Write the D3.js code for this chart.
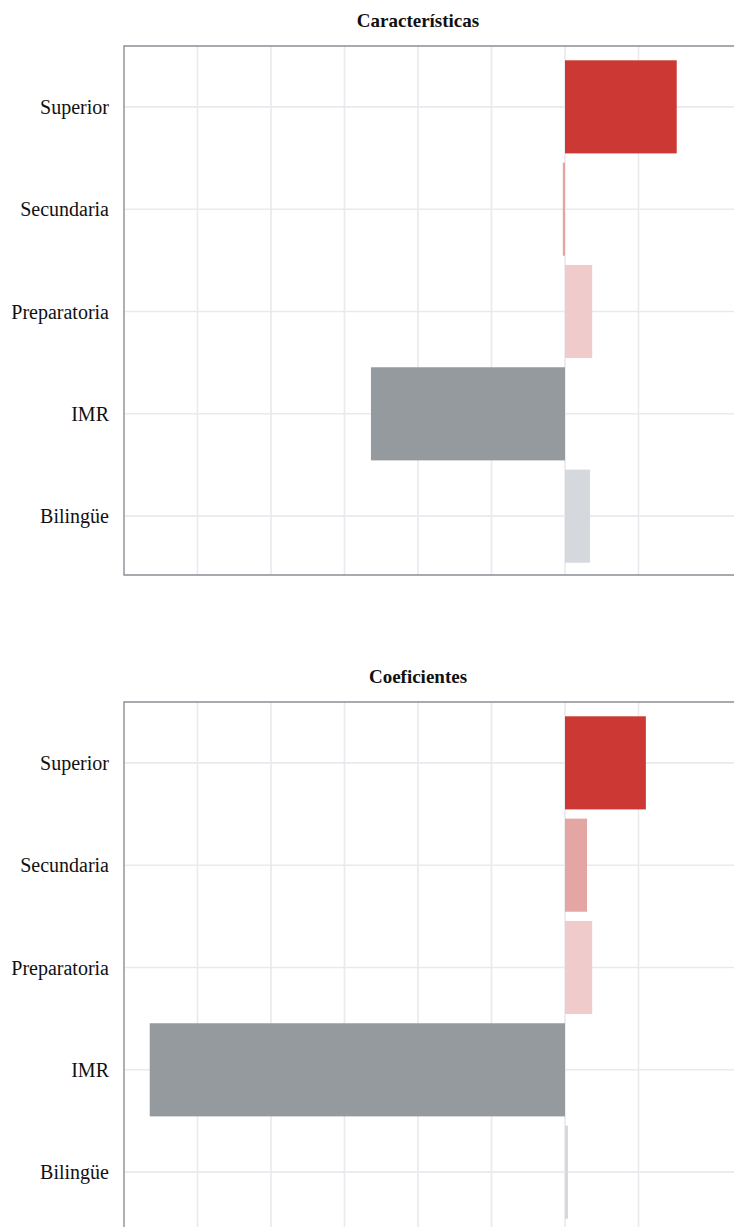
<!DOCTYPE html>
<html>
<head>
<meta charset="utf-8">
<script src="https://cdn.jsdelivr.net/npm/d3@7"></script>
<style>
  html, body { margin: 0; padding: 0; background: #fff; }
  svg { display: block; }
  text { font-family: "Liberation Serif", "DejaVu Serif", serif; fill: #111; }
</style>
</head>
<body>
<svg id="chart" width="734" height="1227"></svg>
<script>
// Categories, top to bottom
const categories = ["Superior", "Secundaria", "Preparatoria", "IMR", "Bilingüe"];

// Panel titles
const panelTitles = ["Características", "Coeficientes"];

// Values per panel (same order as categories)
const caracteristicas = [0.152, -0.003, 0.037, -0.264, 0.034];
const coeficientes    = [0.110, 0.030, 0.037, -0.565, 0.004];

// Vertical gridline positions
const gridTicks = [-0.5, -0.4, -0.3, -0.2, -0.1, 0, 0.1];

// Fill per category
const fillByCategory = d3.scaleOrdinal()
  .domain(categories)
  .range(["#cc3833", "#e4a6a3", "#efcbcb", "#959a9e", "#d5d8dc"]);

const svg = d3.select("#chart");

const panels = [
  { title: panelTitles[0], values: caracteristicas, top: 46 },
  { title: panelTitles[1], values: coeficientes, top: 702 }
];

const panelHeight = 529;
const x = d3.scaleLinear().domain([-0.6, 0.3]).range([124, 785.5]);

panels.forEach(p => {
  const g = svg.append("g");
  const bottom = p.top + panelHeight;

  const y = d3.scaleBand()
    .domain(categories)
    .range([p.top + 1, bottom + 1])
    .paddingInner(0.09)
    .paddingOuter(0.13);

  // Title
  g.append("text")
    .attr("x", 418)
    .attr("y", p.top - 19)
    .attr("text-anchor", "middle")
    .attr("font-size", 19)
    .attr("font-weight", "bold")
    .text(p.title);

  // Horizontal gridlines at category centres
  g.selectAll(".hgrid").data(categories).join("line")
    .attr("x1", x.range()[0]).attr("x2", x.range()[1])
    .attr("y1", d => y(d) + y.bandwidth() / 2)
    .attr("y2", d => y(d) + y.bandwidth() / 2)
    .attr("stroke", "#e9e9ee").attr("stroke-width", 1.6);

  // Vertical gridlines
  g.selectAll(".vgrid").data(gridTicks).join("line")
    .attr("x1", d => x(d)).attr("x2", d => x(d))
    .attr("y1", p.top).attr("y2", bottom)
    .attr("stroke", "#e9e9ee").attr("stroke-width", 1.6);

  // Bars
  g.selectAll(".bar").data(categories.map((c, i) => ({ c, v: p.values[i] }))).join("rect")
    .attr("x", d => x(Math.min(0, d.v)))
    .attr("width", d => Math.max(1.5, Math.abs(x(d.v) - x(0))))
    .attr("y", d => y(d.c))
    .attr("height", y.bandwidth())
    .attr("fill", d => fillByCategory(d.c));

  // Category labels
  g.selectAll(".lab").data(categories).join("text")
    .attr("x", 109)
    .attr("y", d => y(d) + y.bandwidth() / 2)
    .attr("dy", "0.35em")
    .attr("text-anchor", "end")
    .attr("font-size", 20)
    .text(d => d);

  // Panel frame (left, top, bottom)
  const frame = d3.path();
  frame.moveTo(x.range()[1], p.top);
  frame.lineTo(x.range()[0], p.top);
  frame.lineTo(x.range()[0], bottom);
  frame.lineTo(x.range()[1], bottom);
  g.append("path")
    .attr("d", frame.toString())
    .attr("fill", "none")
    .attr("stroke", "#8a8f94")
    .attr("stroke-width", 1.4);
});
</script>
</body>
</html>
